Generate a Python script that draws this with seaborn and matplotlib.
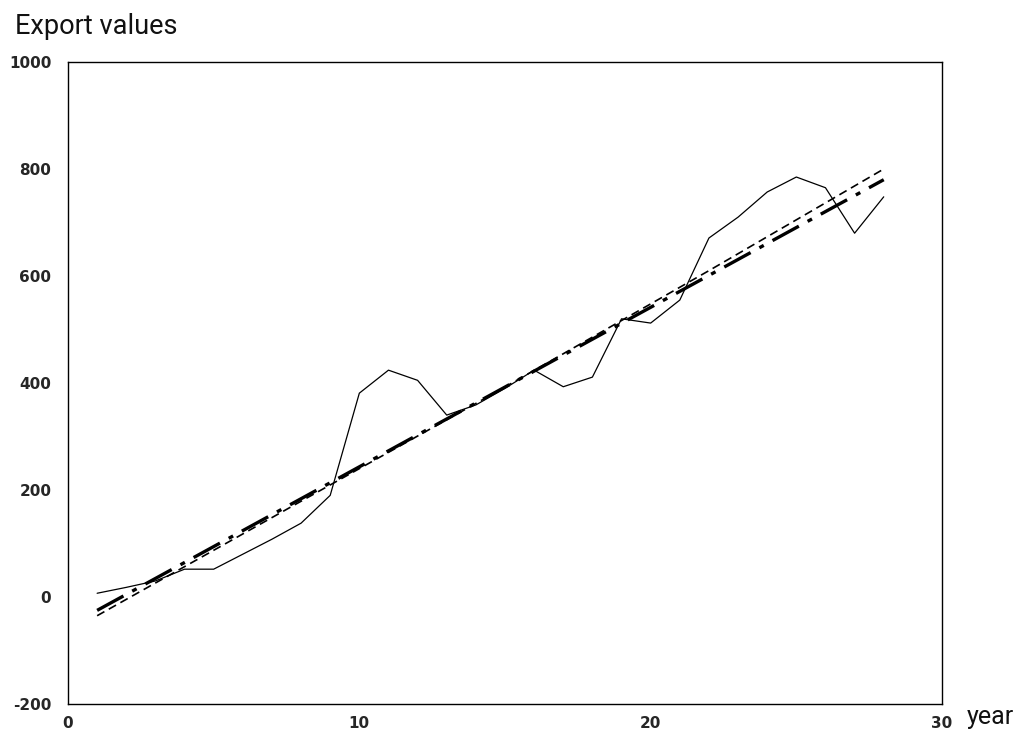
import matplotlib
matplotlib.use("Agg")
import matplotlib.pyplot as plt
import seaborn as sns
import pandas as pd

# ---- data ----
years = list(range(1, 29))
export_values = [7, 18, 30, 52, 52, 80, 108, 138, 190, 381, 424, 405, 340, 359,
                 390, 424, 393, 411, 520, 512, 555, 671, 710, 757, 785, 765, 680, 748]
trend_a_x = [1, 28]
trend_a_y = [-25, 780]
trend_b_x = [1, 8, 14.5, 22, 28]
trend_b_y = [-35, 179, 377, 610, 800]
x_ticks = [0, 10, 20, 30]
y_ticks = [-200, 0, 200, 400, 600, 800, 1000]

sns.set_theme(style="white")
plt.rcParams['font.family'] = ['DejaVu Sans']

fig = plt.figure(figsize=(10.27, 7.38), dpi=100)
ax = fig.add_axes([68 / 1027, 1 - 704 / 738, (942 - 68) / 1027, (704 - 62) / 738])

df = pd.DataFrame({"year": years, "value": export_values})
sns.lineplot(data=df, x="year", y="value", ax=ax, color="black", lw=0.9)
sns.lineplot(x=trend_a_x, y=trend_a_y, ax=ax, color="black", lw=2.4,
             linestyle=(0, (9, 3, 1.5, 3)))
sns.lineplot(x=trend_b_x, y=trend_b_y, ax=ax, color="black", lw=1.2,
             linestyle=(0, (5, 3)))

ax.set_xlim(0, 30)
ax.set_ylim(-200, 1000)
ax.set_xticks(x_ticks)
ax.set_yticks(y_ticks)
ax.set_xticklabels([str(t) for t in x_ticks], fontweight="heavy", fontsize=11)
ax.set_yticklabels([str(t) for t in y_ticks], fontweight="heavy", fontsize=11)
ax.tick_params(axis="y", direction="out", length=4, width=1, color="black", pad=8)
ax.tick_params(axis="x", direction="in", length=4, width=1, color="black", pad=9)
ax.set_xlabel("")
ax.set_ylabel("")
for s in ax.spines.values():
    s.set_visible(True)
    s.set_color("black")
    s.set_linewidth(1.0)

fig.text(15 / 1027, 1 - 27 / 738, "Export values", family="Roboto",
         fontsize=19.5, va="center", ha="left", color="#111111")
fig.text(967 / 1027, 1 - 717 / 738, "year", family="Roboto",
         fontsize=18, va="center", ha="left", color="#111111")

fig.savefig("out.png", dpi=100, facecolor="white")
